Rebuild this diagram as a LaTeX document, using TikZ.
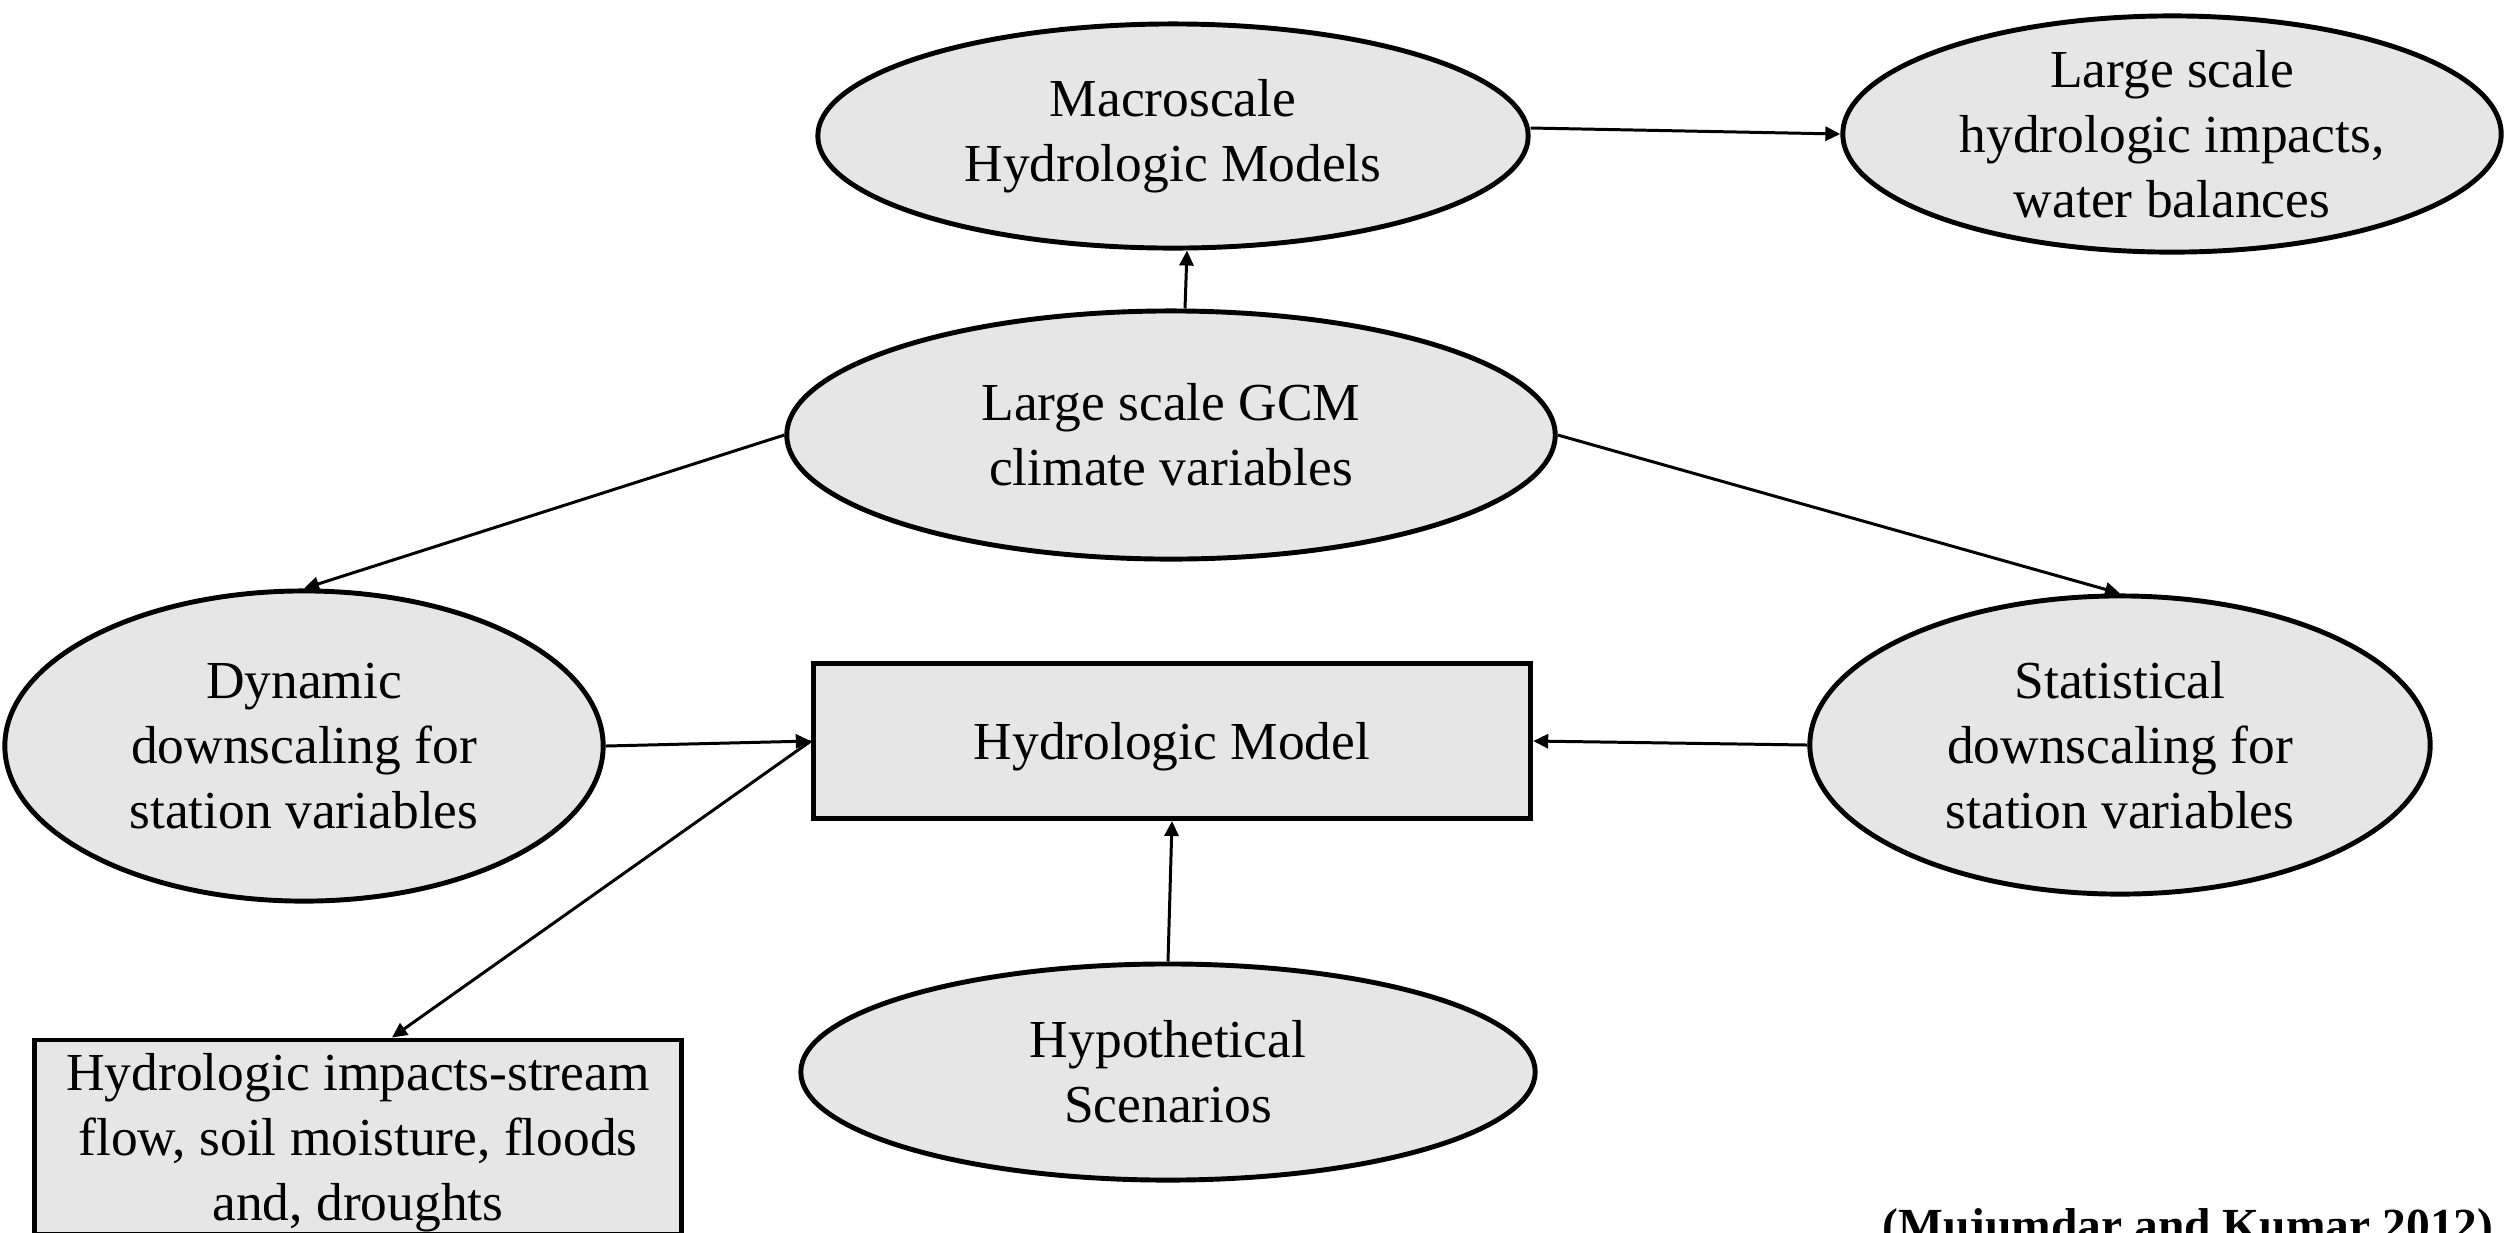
\documentclass[tikz,border=0pt]{standalone}
\usepackage{fontspec}
\setmainfont{Liberation Serif}
\usetikzlibrary{shapes.geometric,arrows.meta}
\definecolor{boxfill}{RGB}{230,230,230}
\begin{document}
\begin{tikzpicture}[x=0.01cm,y=-0.01cm,
  txt/.style={font=\fontsize{15.2}{18.4}\selectfont},
  ell/.style={ellipse,draw,line width=1.4pt,fill=boxfill,inner sep=0pt,align=center,txt},
  rbox/.style={rectangle,draw,line width=1.4pt,fill=boxfill,inner sep=0pt,align=center,text depth=0pt,txt},
  arr/.style={-{Triangle[length=0.15cm,width=0.14cm]},line width=0.85pt}]
\useasboundingbox (0,0) rectangle (2509,1232);
\node[ell,minimum width=7.1cm,minimum height=2.24cm] (macro) at (1173,136) {Macroscale\\Hydrologic Models};
\node[ell,minimum width=6.58cm,minimum height=2.21cm] (large) at (2172,134) {Large scale\\hydrologic impacts,\\water balances};
\node[ell,minimum width=7.68cm,minimum height=2.48cm] (gcm) at (1171,435) {Large scale GCM\\climate variables};
\node[ell,minimum width=5.98cm,minimum height=3.10cm] (dyn) at (304,746) {Dynamic\\downscaling for\\station variables};
\node[ell,minimum width=6.20cm,minimum height=2.98cm] (stat) at (2120,745) {Statistical\\downscaling for\\station variables};
\node[rbox,minimum width=7.17cm,minimum height=1.55cm] (hm) at (1172,741) {Hydrologic Model};
\node[ell,minimum width=7.34cm,minimum height=2.16cm] (hyp) at (1168,1072) {Hypothetical\\Scenarios};
\node[rbox,minimum width=6.46cm,minimum height=1.94cm] (imp) at (358,1137) {Hydrologic impacts-stream\\flow, soil moisture, floods\\and, droughts};
\node[anchor=base,inner sep=0pt,font=\fontsize{13.5}{16}\selectfont\bfseries] (cite) at (2188,1241) {(Mujumdar and Kumar 2012)};
\draw[arr] ([xshift=0.14cm]gcm.north) -- ([xshift=0.14cm]macro.south);
\draw[arr] ([yshift=0.08cm]macro.east) -- (large.west);
\draw[arr] (gcm.west) -- (dyn.north);
\draw[arr] (gcm.east) -- (stat.north);
\draw[arr] (dyn.east) -- (hm.west);
\draw[arr] (stat.west) -- (hm.east);
\draw[arr] (hyp.north) -- (hm.south);
\draw[arr] (hm.west) -- ([xshift=0.34cm]imp.north);
\end{tikzpicture}
\end{document}
